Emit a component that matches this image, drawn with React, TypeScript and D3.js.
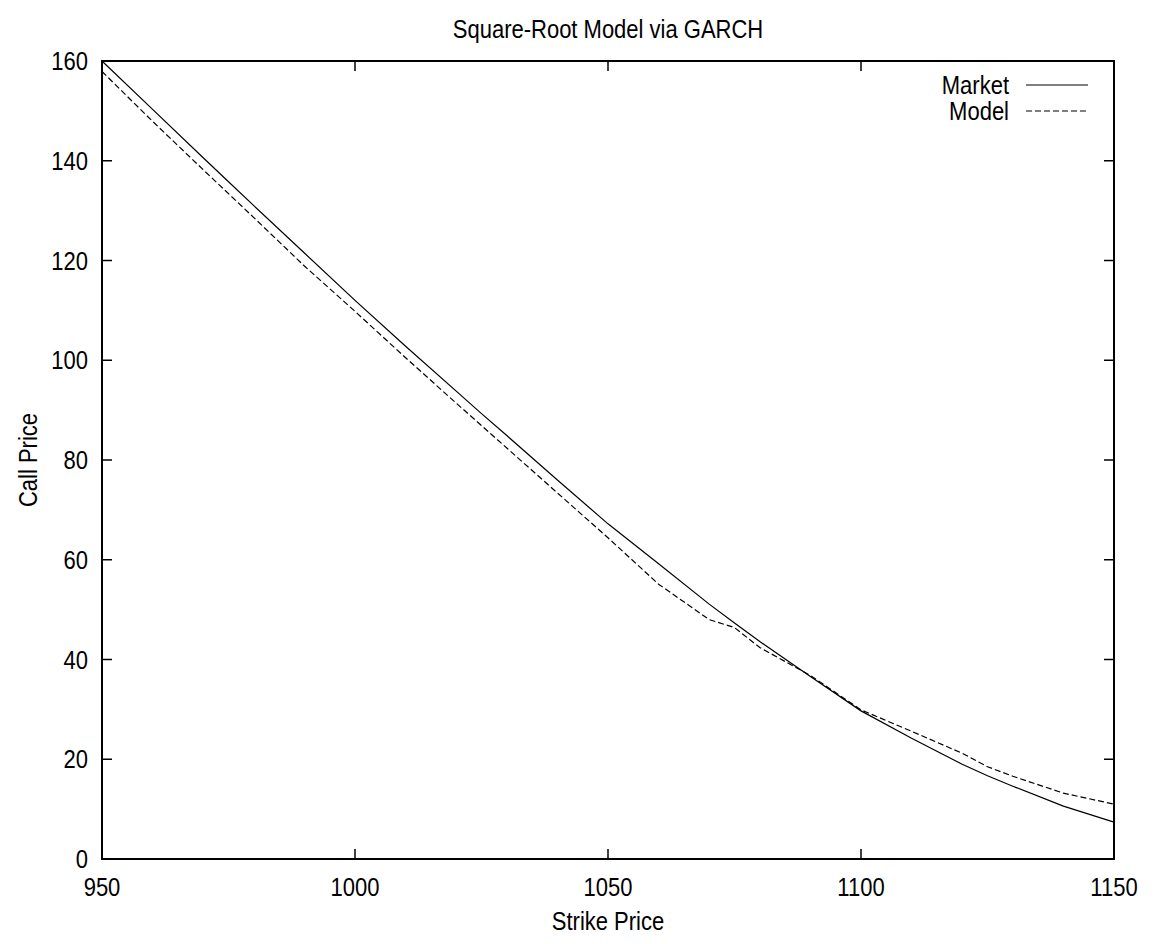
import React from "react";
import * as d3 from "d3";

const strikes = [950, 960, 970, 975, 980, 990, 1000, 1010, 1020, 1025, 1030, 1040, 1050, 1060, 1070, 1075, 1080, 1090, 1100, 1110, 1120, 1125, 1130, 1140, 1150];
const marketPrices = [160.0, 150.3, 140.6, 135.8, 131.0, 121.5, 112.0, 102.8, 93.8, 89.3, 84.9, 76.0, 67.2, 59.2, 51.1, 47.3, 43.6, 36.6, 29.7, 24.2, 19.0, 16.7, 14.6, 10.6, 7.4];
const modelPrices = [157.9, 147.9, 138.2, 133.4, 128.6, 118.9, 109.8, 100.5, 91.4, 86.9, 82.4, 73.4, 64.4, 55.1, 48.0, 46.4, 42.4, 36.8, 29.9, 25.6, 21.2, 18.5, 16.6, 13.2, 11.0];
const xTicks = [950, 1000, 1050, 1100, 1150];
const yTicks = [0, 20, 40, 60, 80, 100, 120, 140, 160];
const seriesNames = ["Market", "Model"];

const W = 1161, H = 944;
const L = 102, R = 1114, T = 61, B = 859;
const FONT = "'Liberation Sans', Arial, Helvetica, sans-serif";

function Txt({ x, y, anchor = "middle", rotate = 0, children }: { x: number; y: number; anchor?: string; rotate?: number; children: React.ReactNode }) {
  return (
    <text
      transform={`translate(${x},${y}) rotate(${rotate}) scale(1,1.16)`}
      dy="0.36em"
      textAnchor={anchor as any}
      fontSize={22}
    >
      {children}
    </text>
  );
}

export default function App() {
  const x = d3.scaleLinear().domain([950, 1150]).range([L, R]);
  const y = d3.scaleLinear().domain([0, 160]).range([B, T]);
  const line = d3.line<[number, number]>().x(d => x(d[0])).y(d => y(d[1]));
  const marketPath = line(strikes.map((s, i) => [s, marketPrices[i]]) as [number, number][]) || "";
  const modelPath = line(strikes.map((s, i) => [s, modelPrices[i]]) as [number, number][]) || "";
  const tickLen = 10;
  return (
    <svg width={W} height={H} style={{ position: "absolute", left: 0, top: 0, background: "#fff" }} fontFamily={FONT}>
      <rect x={0} y={0} width={W} height={H} fill="#fff" />
      <Txt x={(L + R) / 2} y={29}>Square-Root Model via GARCH</Txt>
      {yTicks.map(t => (
        <g key={"y" + t}>
          <line x1={L} x2={L + tickLen} y1={y(t)} y2={y(t)} stroke="#000" strokeWidth={1.5} />
          <line x1={R} x2={R - tickLen} y1={y(t)} y2={y(t)} stroke="#000" strokeWidth={1.5} />
          <Txt x={L - 14} y={y(t)} anchor="end">{t}</Txt>
        </g>
      ))}
      {xTicks.map(t => (
        <g key={"x" + t}>
          <line x1={x(t)} x2={x(t)} y1={B} y2={B - tickLen} stroke="#000" strokeWidth={1.5} />
          <line x1={x(t)} x2={x(t)} y1={T} y2={T + tickLen} stroke="#000" strokeWidth={1.5} />
          <Txt x={x(t)} y={887}>{t}</Txt>
        </g>
      ))}
      <path d={marketPath} fill="none" stroke="#000" strokeWidth={1.2} />
      <path d={modelPath} fill="none" stroke="#000" strokeWidth={1.2} strokeDasharray="6,3" />
      <Txt x={1009} y={85} anchor="end">{seriesNames[0]}</Txt>
      <line x1={1026} x2={1088} y1={85} y2={85} stroke="#000" strokeWidth={1.2} />
      <Txt x={1009} y={111} anchor="end">{seriesNames[1]}</Txt>
      <line x1={1026} x2={1088} y1={111} y2={111} stroke="#000" strokeWidth={1.2} strokeDasharray="6,3" />
      <rect x={L} y={T} width={R - L} height={B - T} fill="none" stroke="#000" strokeWidth={2} />
      <Txt x={(L + R) / 2} y={921}>Strike Price</Txt>
      <Txt x={28} y={(T + B) / 2} rotate={-90}>Call Price</Txt>
    </svg>
  );
}
